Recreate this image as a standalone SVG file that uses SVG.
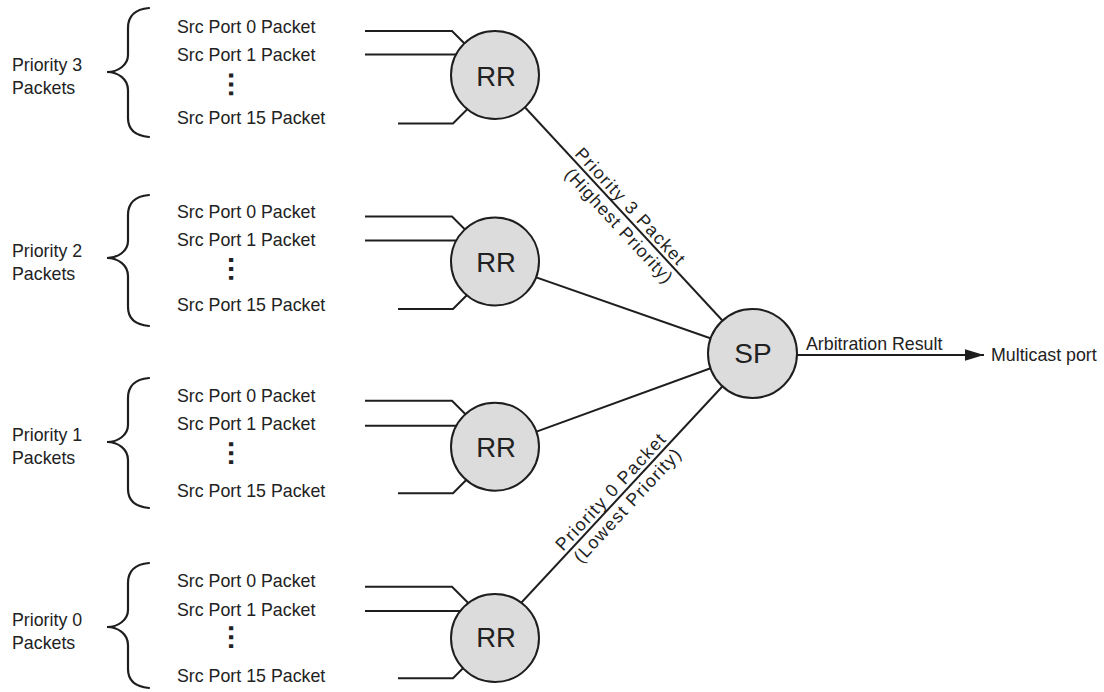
<svg xmlns="http://www.w3.org/2000/svg" width="1104" height="692" viewBox="0 0 1104 692">
<style>
text{font-family:"Liberation Sans",Arial,sans-serif;font-size:17.8px;fill:#222}
.ln{stroke:#1e1e1e;stroke-width:2;fill:none}
.brace{stroke:#1e1e1e;stroke-width:2.2;fill:none;stroke-linecap:round}
.node{fill:#dcdcdd;stroke:#1e1e1e;stroke-width:2}
.big{font-size:27.5px}
.dots{font-weight:bold;font-size:28px;text-anchor:middle}
.mid{text-anchor:middle}
</style>
<defs>
<marker id="arrow" markerUnits="userSpaceOnUse" markerWidth="20" markerHeight="12" refX="19" refY="5.7" orient="auto">
<path d="M0,0 L19,5.7 L0,11.4 z" fill="#1e1e1e"/>
</marker>
</defs>
<g id="connectors">
<polyline class="ln" points="365,31 452,31 472,51"/>
<line class="ln" x1="365" y1="54.5" x2="470" y2="54.5"/>
<polyline class="ln" points="398,123.5 453,123.5 473,103.5"/>
<polyline class="ln" points="365,216.5 452,216.5 472,236.5"/>
<line class="ln" x1="365" y1="240.5" x2="470" y2="240.5"/>
<polyline class="ln" points="398,309 453,309 473,289"/>
<polyline class="ln" points="365,400.7 452,400.7 472,420.7"/>
<line class="ln" x1="365" y1="425.7" x2="470" y2="425.7"/>
<polyline class="ln" points="398,493.3 453,493.3 473,473.3"/>
<polyline class="ln" points="365,586.7 452,586.7 472,606.7"/>
<line class="ln" x1="365" y1="611" x2="470" y2="611"/>
<polyline class="ln" points="398,678.3 453,678.3 473,658.3"/>
<line class="ln" x1="495" y1="75" x2="752.5" y2="353"/>
<line class="ln" x1="495" y1="263" x2="752.5" y2="353"/>
<line class="ln" x1="495" y1="446.7" x2="752.5" y2="353"/>
<line class="ln" x1="495" y1="631" x2="752.5" y2="354"/>
<line class="ln" x1="796" y1="355" x2="984" y2="355" marker-end="url(#arrow)"/>
<g transform="translate(622.7,212.9) rotate(47.19)">
<text class="mid" x="0" y="-4" textLength="152" lengthAdjust="spacing">Priority 3 Packet</text>
<text class="mid" x="6.7" y="17.5" textLength="149" lengthAdjust="spacing">(Highest Priority)</text>
</g>
<g transform="translate(618.2,498.4) rotate(-47.09)">
<text class="mid" x="-0.6" y="-4" textLength="152" lengthAdjust="spacing">Priority 0 Packet</text>
<text class="mid" x="0.8" y="17.5" textLength="148" lengthAdjust="spacing">(Lowest Priority)</text>
</g>
<text x="806" y="350">Arbitration Result</text>
</g>
<g id="prio3">
<path class="brace" d="M149,8 C138,9 128,13 128,28 L128,55 C128,65 118,72 107,72 C118,72 128,79 128,90 L128,118 C128,131 138,136 149,137"/>
<text x="12" y="71">Priority 3</text>
<text x="12" y="94">Packets</text>
<text x="177" y="32.5">Src Port 0 Packet</text>
<text x="177" y="60.5">Src Port 1 Packet</text>
<text class="dots" transform="translate(231,84.5) rotate(90)" x="0" y="2">…</text>
<text x="177" y="124">Src Port 15 Packet</text>
</g>
<g id="prio2">
<path class="brace" d="M149,195 C138,196 128,200 128,215 L128,241 C128,251 118,258 107,258 C118,258 128,265 128,276 L128,307 C128,320 138,325 149,326"/>
<text x="12" y="256.7">Priority 2</text>
<text x="12" y="280">Packets</text>
<text x="177" y="217.5">Src Port 0 Packet</text>
<text x="177" y="246">Src Port 1 Packet</text>
<text class="dots" transform="translate(231,269) rotate(90)" x="0" y="2">…</text>
<text x="177" y="311">Src Port 15 Packet</text>
</g>
<g id="prio1">
<path class="brace" d="M149,378 C138,379 128,383 128,398 L128,425 C128,435 118,442 107,442 C118,442 128,449 128,460 L128,489 C128,502 138,507 149,508"/>
<text x="12" y="441">Priority 1</text>
<text x="12" y="464">Packets</text>
<text x="177" y="401.7">Src Port 0 Packet</text>
<text x="177" y="430">Src Port 1 Packet</text>
<text class="dots" transform="translate(231,453.3) rotate(90)" x="0" y="2">…</text>
<text x="177" y="496.5">Src Port 15 Packet</text>
</g>
<g id="prio0">
<path class="brace" d="M149,563 C138,564 128,568 128,583 L128,610 C128,620 118,627 107,627 C118,627 128,634 128,645 L128,669 C128,682 138,687 149,688"/>
<text x="12" y="626">Priority 0</text>
<text x="12" y="649">Packets</text>
<text x="177" y="587">Src Port 0 Packet</text>
<text x="177" y="616">Src Port 1 Packet</text>
<text class="dots" transform="translate(231,637.3) rotate(90)" x="0" y="2">…</text>
<text x="177" y="681.7">Src Port 15 Packet</text>
</g>
<g id="rr3">
<circle class="node" cx="495" cy="75" r="44"/>
<text class="big mid" x="496" y="85.5">RR</text>
</g>
<g id="rr2">
<circle class="node" cx="495" cy="261.5" r="44"/>
<text class="big mid" x="496" y="271.5">RR</text>
</g>
<g id="rr1">
<circle class="node" cx="495" cy="446.7" r="44"/>
<text class="big mid" x="496" y="456.7">RR</text>
</g>
<g id="rr0">
<circle class="node" cx="495" cy="638" r="44"/>
<text class="big mid" x="496" y="647.3">RR</text>
</g>
<g id="sp">
<circle class="node" cx="752.5" cy="353.5" r="44.5"/>
<text class="big mid" x="753" y="363.3" style="font-size:28px">SP</text>
</g>
<g id="multicast">
<text x="991" y="361">Multicast port</text>
</g>
</svg>
